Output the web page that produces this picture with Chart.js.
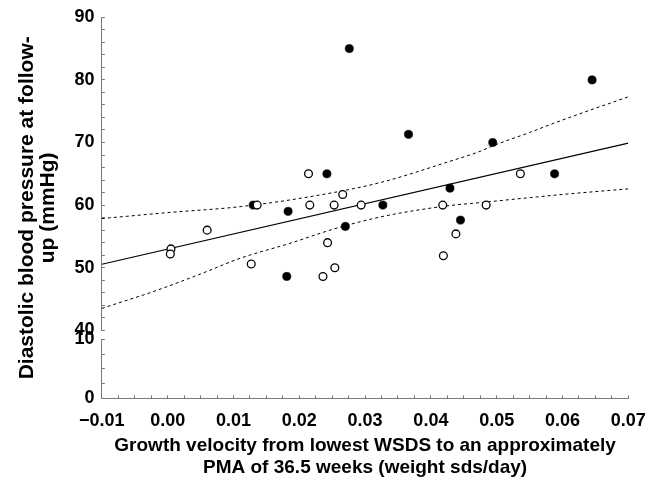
<!DOCTYPE html>
<html><head><meta charset="utf-8">
<script src="https://cdn.jsdelivr.net/npm/chart.js@4"></script>
<style>html,body{margin:0;padding:0;background:#fff}#wrap{width:648px;height:481px;position:relative}canvas{display:block}</style>
</head><body><div id="wrap"><canvas id="c" width="648" height="481" style="width:648px;height:481px"></canvas></div>
<script>
// ---- data ----
const openX = [0.0005, 0.0004, 0.0060, 0.0127, 0.0136, 0.0214, 0.0216, 0.0236, 0.0243, 0.0253, 0.0254, 0.0266, 0.0294, 0.0418, 0.0419, 0.0438, 0.0484, 0.0536];
const openY = [53.0, 52.2, 56.0, 50.6, 60.0, 65.0, 60.0, 48.6, 54.0, 60.0, 50.0, 61.7, 60.0, 60.0, 51.9, 55.4, 60.0, 65.0];
const filledX = [0.0130, 0.0183, 0.0181, 0.0242, 0.0276, 0.0270, 0.0327, 0.0366, 0.0429, 0.0445, 0.0494, 0.0588, 0.0645];
const filledY = [60.0, 59.0, 48.6, 65.0, 85.0, 56.6, 60.0, 71.3, 62.7, 57.6, 70.0, 65.0, 80.0];
const fitX = [-0.01, 0.07];
const fitY = [50.55, 69.9];
const upperX = [-0.01, 0.0, 0.011, 0.0225, 0.0323, 0.0429, 0.0475, 0.0495, 0.055, 0.060, 0.07];
const upperY = [57.85, 58.8, 59.75, 61.5, 63.6, 67.0, 68.6, 69.5, 71.6, 73.6, 77.3];
const lowerX = [-0.01, -0.0016, 0.005, 0.011, 0.0186, 0.025, 0.0323, 0.0419, 0.0485, 0.0551, 0.060, 0.07];
const lowerY = [43.5, 46.4, 49.0, 51.5, 53.9, 56.1, 58.1, 59.8, 60.5, 61.2, 61.7, 62.6];

const xMajor = [-0.01, 0.00, 0.01, 0.02, 0.03, 0.04, 0.05, 0.06, 0.07];
const xLabels = ['\u22120.01', '0.00', '0.01', '0.02', '0.03', '0.04', '0.05', '0.06', '0.07'];
const yTopMajor = [40, 50, 60, 70, 80, 90];
const yTopLabels = ['40', '50', '60', '70', '80', '90'];
const yBotMajor = [0, 10];
const yBotLabels = ['0', '10'];

const xTitle = ['Growth velocity from lowest WSDS to an approximately', 'PMA of 36.5 weeks (weight sds/day)'];
const yTitle = ['Diastolic blood pressure at follow-', 'up (mmHg)'];

// ---- helpers ----
const pts = (xs, ys) => xs.map((x, i) => ({x: x, y: ys[i]}));
function withMinor(majors, sub) {
  const out = [];
  for (let i = 0; i < majors.length - 1; i++) {
    const a = majors[i], b = majors[i + 1];
    for (let k = 0; k < sub; k++) out.push(a + (b - a) * k / sub);
  }
  out.push(majors[majors.length - 1]);
  return out;
}
function labelFor(v, majors, labels) {
  for (let i = 0; i < majors.length; i++) if (Math.abs(v - majors[i]) < 1e-9) return labels[i];
  return '';
}
function noPad(s) { s.paddingLeft = 0; s.paddingRight = 0; s.paddingTop = 0; s.paddingBottom = 0; }

const FONT = 'Liberation Sans, Arial, Helvetica, sans-serif';
const AXIS = '#7a7a7a';
const tickFont = {family: FONT, size: 18, weight: 'bold'};

function yScale(min, max, majors, labels, sub, weight) {
  return {
    type: 'linear', position: 'left', stack: 'ys', stackWeight: weight,
    min: min, max: max,
    afterBuildTicks: s => { s.ticks = withMinor(majors, sub).map(v => ({value: v})); },
    afterFit: s => { s.width = 43.7; noPad(s); },
    ticks: {
      autoSkip: false, padding: 10.4, color: '#000', font: tickFont,
      callback: v => labelFor(v, majors, labels)
    },
    grid: {display: true, drawOnChartArea: false, drawTicks: true, tickLength: -3, tickColor: AXIS, tickWidth: 1},
    border: {display: true, color: AXIS, width: 1}
  };
}

const chart = new Chart(document.getElementById('c'), {
  data: {
    datasets: [
      {type: 'scatter', data: pts(openX, openY), yAxisID: 'yt', pointRadius: 3.9, pointBorderWidth: 1.3,
       pointBackgroundColor: '#fff', pointBorderColor: '#000', pointHoverRadius: 3.9},
      {type: 'scatter', data: pts(filledX, filledY), yAxisID: 'yt', pointRadius: 4.1, pointBorderWidth: 0.6,
       pointBackgroundColor: '#000', pointBorderColor: '#000', pointHoverRadius: 4.1},
      {type: 'line', data: pts(fitX, fitY), yAxisID: 'yt', borderColor: '#000', borderWidth: 1.2, pointRadius: 0, fill: false},
      {type: 'line', data: pts(upperX, upperY), yAxisID: 'yt', borderColor: '#000', borderWidth: 1, borderDash: [3, 3],
       pointRadius: 0, fill: false, cubicInterpolationMode: 'monotone'},
      {type: 'line', data: pts(lowerX, lowerY), yAxisID: 'yt', borderColor: '#000', borderWidth: 1, borderDash: [3, 3],
       pointRadius: 0, fill: false, cubicInterpolationMode: 'monotone'}
    ]
  },
  options: {
    responsive: false, animation: false, devicePixelRatio: 1,
    layout: {padding: {left: 17, top: 17.3, right: 19.7, bottom: 0}},
    plugins: {
      legend: {display: false},
      tooltip: {enabled: false},
      title: {
        display: true, position: 'left', fullSize: false, text: yTitle, color: '#000',
        font: {family: FONT, size: 21, weight: 'bold', lineHeight: 0.98},
        padding: {top: 0, bottom: 0}
      }
    },
    scales: {
      x: {
        type: 'linear', position: 'bottom', min: -0.01, max: 0.07,
        afterBuildTicks: s => { s.ticks = withMinor(xMajor, 4).map(v => ({value: v})); },
        afterFit: s => { s.height = 481 - 398.3; noPad(s); },
        ticks: {autoSkip: false, maxRotation: 0, minRotation: 0, padding: 15, color: '#000', font: tickFont,
                callback: v => labelFor(v, xMajor, xLabels)},
        grid: {display: true, drawOnChartArea: false, drawTicks: true, tickLength: -3, tickColor: AXIS, tickWidth: 1},
        border: {display: true, color: AXIS, width: 1},
        title: {display: true, text: xTitle, color: '#000',
                font: {family: FONT, size: 19, weight: 'bold', lineHeight: 1.16}, padding: {top: 0, bottom: 2}}
      },
      yb: yScale(0, 10, yBotMajor, yBotLabels, 4, 59),
      ygap: {
        type: 'linear', position: 'left', stack: 'ys', stackWeight: 9, min: 0, max: 1,
        afterFit: s => { s.width = 43.7; noPad(s); },
        ticks: {display: false}, grid: {display: false, drawTicks: false}, border: {display: false}
      },
      yt: yScale(40, 90, yTopMajor, yTopLabels, 5, 313)
    }
  }
});
</script></body></html>
